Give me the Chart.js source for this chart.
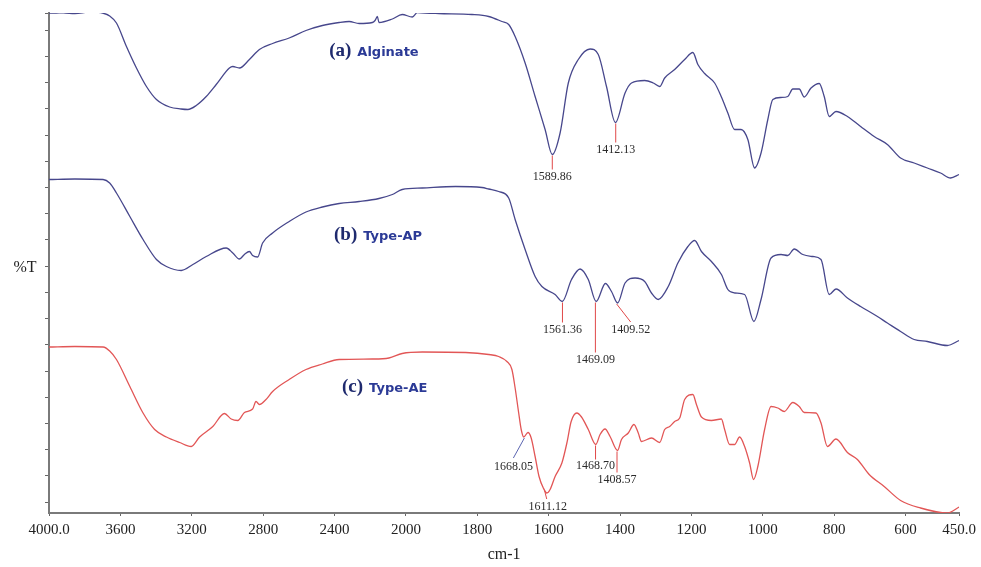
<!DOCTYPE html>
<html>
<head>
<meta charset="utf-8">
<script src="https://cdn.jsdelivr.net/npm/chart.js@4.4.1/dist/chart.umd.min.js"></script>
<style>
    html, body { margin: 0; padding: 0; background: #fff; }
</style>
</head>
<body>
<canvas id="ftirChart" width="981" height="567"></canvas>
<script>
// FTIR spectra: wavenumber (cm-1) and %T
const waveA = [4000, 3930, 3855, 3771, 3700, 3660, 3622, 3566, 3510, 3454, 3398, 3324, 3260, 3222, 3175, 3119, 3063, 2989, 2970, 2933, 2877, 2821, 2747, 2654, 2560, 2468, 2374, 2318, 2262, 2188, 2173, 2160, 2151, 2076, 2021, 1982, 1968, 1908, 1815, 1768, 1731, 1712, 1694, 1666, 1638, 1610, 1590, 1568, 1545, 1517, 1484, 1461, 1438, 1413, 1386, 1368, 1331, 1307, 1289, 1275, 1247, 1219, 1196, 1182, 1163, 1135, 1116, 1098, 1079, 1061, 1042, 1023, 1005, 986, 972, 949, 930, 916, 898, 884, 865, 842, 828, 814, 795, 763, 726, 688, 651, 614, 576, 539, 502, 474, 450];
const transA = [100.0, 100.1, 99.9, 100.2, 100.0, 99.4, 98.0, 93.3, 89.0, 85.3, 82.7, 81.2, 80.8, 80.7, 81.5, 83.3, 85.7, 89.0, 89.3, 89.0, 90.7, 92.7, 93.9, 95.0, 96.5, 97.5, 98.1, 98.3, 97.9, 98.1, 98.5, 99.3, 98.1, 98.8, 99.7, 99.2, 100.1, 99.9, 99.7, 99.3, 98.3, 97.7, 95.3, 90.0, 83.3, 76.7, 71.7, 76.0, 86.0, 90.7, 92.8, 91.7, 85.3, 78.1, 84.0, 86.0, 86.5, 86.0, 85.3, 87.0, 88.7, 90.7, 92.1, 89.7, 87.9, 86.0, 83.2, 80.0, 76.7, 76.7, 74.7, 69.0, 72.0, 78.7, 82.7, 83.1, 83.3, 84.8, 84.8, 83.2, 85.0, 85.9, 83.3, 79.3, 80.3, 79.3, 77.3, 75.3, 73.7, 71.0, 70.0, 69.0, 68.0, 67.0, 67.7];

const waveB = [4000, 3855, 3697, 3660, 3622, 3547, 3473, 3398, 3342, 3259, 3194, 3119, 3007, 2970, 2933, 2905, 2877, 2859, 2831, 2803, 2747, 2654, 2560, 2468, 2374, 2262, 2151, 2076, 2021, 1954, 1861, 1787, 1768, 1740, 1712, 1694, 1666, 1638, 1619, 1582, 1562, 1536, 1512, 1489, 1467, 1441, 1424, 1407, 1386, 1358, 1331, 1312, 1293, 1265, 1238, 1210, 1191, 1172, 1144, 1116, 1098, 1079, 1051, 1025, 1005, 977, 949, 930, 912, 888, 860, 837, 814, 795, 763, 726, 688, 651, 614, 576, 539, 483, 450];
const transB = [66.7, 66.8, 66.7, 66.0, 64.0, 59.3, 54.7, 50.7, 49.3, 48.5, 49.7, 51.3, 53.0, 52.0, 50.8, 51.7, 52.3, 51.5, 51.2, 54.0, 56.0, 58.3, 60.2, 61.2, 61.9, 62.3, 62.9, 63.7, 64.7, 65.0, 65.3, 65.1, 64.8, 64.3, 63.0, 58.7, 52.7, 47.3, 45.3, 43.7, 42.3, 46.7, 48.8, 46.7, 42.3, 45.9, 44.3, 42.0, 46.0, 47.0, 46.3, 44.0, 42.7, 45.3, 50.0, 53.3, 54.5, 52.3, 50.3, 47.7, 44.7, 44.0, 43.7, 38.3, 42.7, 51.0, 51.7, 51.5, 52.8, 51.7, 51.3, 50.7, 43.7, 44.8, 43.0, 41.3, 39.7, 38.0, 36.3, 34.7, 34.3, 33.5, 34.5];

const waveC = [4000, 3855, 3697, 3660, 3622, 3547, 3473, 3408, 3342, 3268, 3203, 3156, 3082, 3017, 2979, 2942, 2905, 2859, 2840, 2821, 2784, 2747, 2654, 2560, 2468, 2374, 2188, 2095, 2021, 1954, 1833, 1768, 1740, 1717, 1703, 1694, 1684, 1677, 1670, 1658, 1649, 1638, 1627, 1615, 1605, 1596, 1582, 1563, 1549, 1537, 1521, 1508, 1489, 1468, 1456, 1442, 1428, 1407, 1396, 1377, 1361, 1349, 1340, 1312, 1289, 1275, 1261, 1247, 1233, 1219, 1196, 1186, 1172, 1144, 1116, 1107, 1093, 1079, 1065, 1051, 1037, 1026, 1014, 995, 977, 958, 940, 916, 898, 884, 851, 837, 819, 795, 763, 735, 702, 660, 614, 558, 483, 450];
const transC = [33.2, 33.3, 33.2, 32.4, 30.7, 25.3, 20.0, 16.7, 15.2, 14.1, 13.3, 15.2, 17.3, 19.9, 18.8, 18.5, 20.1, 20.8, 22.3, 21.7, 22.7, 24.3, 26.7, 28.7, 29.8, 30.7, 30.8, 31.0, 31.9, 32.2, 32.1, 31.7, 31.3, 30.3, 28.7, 25.0, 20.0, 16.7, 15.2, 16.1, 15.0, 11.3, 7.3, 5.0, 4.0, 4.7, 7.3, 10.0, 14.0, 18.3, 20.0, 19.2, 16.7, 13.7, 15.7, 16.8, 15.3, 12.5, 14.7, 16.0, 17.7, 16.0, 14.3, 15.0, 14.1, 16.7, 17.3, 18.3, 19.0, 22.7, 23.7, 21.7, 19.2, 18.5, 18.8, 16.7, 13.7, 13.7, 15.2, 13.3, 10.0, 6.7, 9.3, 16.7, 21.3, 21.0, 20.3, 22.1, 21.3, 20.1, 20.0, 18.0, 13.3, 14.8, 12.1, 10.7, 7.7, 5.3, 2.5, 1.0, 0.0, 1.2];

const seriesTags = ["(a)", "(b)", "(c)"];
const seriesNames = ["Alginate", "Type-AP", "Type-AE"];

const tickWaves = [4000, 3600, 3200, 2800, 2400, 2000, 1800, 1600, 1400, 1200, 1000, 800, 600, 450];
const tickLabels = ["4000.0", "3600", "3200", "2800", "2400", "2000", "1800", "1600", "1400", "1200", "1000", "800", "600", "450.0"];

// marked peaks: wavenumber and %T at the peak
const peakWaves = [[1589.86, 1412.13], [1561.36, 1469.09, 1409.52], [1668.05, 1611.12, 1468.70, 1408.57]];
const peakTrans = [[71.7, 78.1], [42.3, 42.3, 42.0], [15.2, 4.6, 13.7, 12.5]];

// the instrument axis is compressed 2x above 2000 cm-1
function toAxis(w) {
    return w >= 2000 ? (4000 - w) / 400 : 5 + (2000 - w) / 200;
}

function toPoints(waves, trans) {
    return waves.map((w, i) => ({ x: toAxis(w), y: trans[i] }));
}

const BLUE = "#47478c";
const RED = "#e25656";

// leader line end / label centre offsets (px) for each peak
const peakLayout = [
    [[0, 15, 0, 22], [0, 20, 0, 27]],
    [[0, 21, 0, 28], [0, 51, 0, 58], [14, 19, 14, 27]],
    [[-11, 21, -11, 30], [2, 9, 3, 17], [0, 15, 0, 21], [0, 22, 0, 29]],
];
const peakLineColors = [["#e04848", "#e04848"], ["#e04848", "#e04848", "#e04848"], ["#5a64b0", "#e04848", "#e04848", "#e04848"]];
const tagAnchors = [[2430, 91.5], [2403, 54.7], [2358, 24.3]];

const spectrumText = {
    id: "spectrumText",
    afterDatasetsDraw(chart) {
        const { ctx, chartArea } = chart;
        const x = chart.scales.x;
        const y = chart.scales.y;
        ctx.save();

        // peak markers
        ctx.font = "12px 'Liberation Serif'";
        ctx.textAlign = "center";
        ctx.textBaseline = "middle";
        peakWaves.forEach((list, s) => {
            list.forEach((w, i) => {
                const px = x.getPixelForValue(toAxis(w));
                const py = y.getPixelForValue(peakTrans[s][i]);
                const [lx, ly, tx, ty] = peakLayout[s][i];
                ctx.strokeStyle = peakLineColors[s][i];
                ctx.lineWidth = 1;
                ctx.beginPath();
                ctx.moveTo(px, py + 1);
                ctx.lineTo(px + lx, py + ly);
                ctx.stroke();
                ctx.fillStyle = "#2a2a2a";
                ctx.fillText(w.toFixed(2), px + tx, py + ty);
            });
        });

        // series tags
        ctx.textAlign = "left";
        ctx.textBaseline = "alphabetic";
        seriesTags.forEach((tag, s) => {
            const px = x.getPixelForValue(toAxis(tagAnchors[s][0]));
            const py = y.getPixelForValue(tagAnchors[s][1]);
            ctx.font = "bold 19px 'Liberation Serif'";
            ctx.fillStyle = "#1f2a6e";
            ctx.fillText(tag, px, py);
            const tw = ctx.measureText(tag).width;
            ctx.font = "bold 13px 'DejaVu Sans'";
            ctx.fillStyle = "#2b3a96";
            ctx.fillText(seriesNames[s], px + tw + 6, py);
        });

        // %T label beside the y axis
        ctx.font = "16px 'Liberation Serif'";
        ctx.fillStyle = "#222";
        ctx.textAlign = "center";
        ctx.textBaseline = "middle";
        ctx.fillText("%T", chartArea.left - 24, 268);
        ctx.restore();
    },
};

const ctx = document.getElementById("ftirChart").getContext("2d");
new Chart(ctx, {
    type: "line",
    data: {
        datasets: [
            { data: toPoints(waveA, transA), borderColor: BLUE },
            { data: toPoints(waveB, transB), borderColor: BLUE },
            { data: toPoints(waveC, transC), borderColor: RED },
        ],
    },
    options: {
        responsive: false,
        animation: false,
        devicePixelRatio: 1,
        layout: { padding: { top: 13, right: 19, left: 0, bottom: 0 } },
        plugins: { legend: { display: false }, tooltip: { enabled: false } },
        elements: {
            point: { radius: 0 },
            line: { borderWidth: 1.3, cubicInterpolationMode: "monotone" },
        },
        scales: {
            x: {
                type: "linear",
                min: 0,
                max: toAxis(450),
                afterBuildTicks: (scale) => {
                    scale.ticks = tickWaves.map((w) => ({ value: toAxis(w) }));
                },
                afterFit: (scale) => {
                    scale.height = 54;
                },
                ticks: {
                    callback: (value, index) => tickLabels[index],
                    autoSkip: false,
                    maxRotation: 0,
                    padding: 5,
                    color: "#222",
                    font: { family: "'Liberation Serif'", size: 15 },
                },
                grid: { drawOnChartArea: false, tickLength: 3, color: "#666" },
                border: { color: "#7a7a7a", width: 2 },
                title: {
                    display: true,
                    text: "cm-1",
                    color: "#222",
                    font: { family: "'Liberation Serif'", size: 16 },
                    padding: { top: 0, bottom: 3 },
                },
            },
            y: {
                min: 0,
                max: 100,
                afterBuildTicks: (scale) => {
                    const t = [];
                    for (let k = 0; k <= 18; k++) t.push({ value: 2.2 + 5.24 * k });
                    t.push({ value: 100 });
                    scale.ticks = t;
                },
                afterFit: (scale) => {
                    scale.width = 49;
                },
                ticks: { callback: () => "" },
                grid: { drawOnChartArea: false, tickLength: 4, color: "#666" },
                border: { color: "#7a7a7a", width: 2 },
            },
        },
    },
    plugins: [spectrumText],
});
</script>
</body>
</html>
